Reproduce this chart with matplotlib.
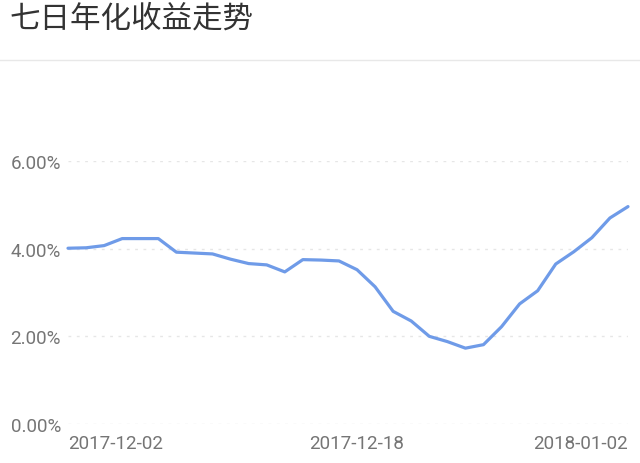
import matplotlib
matplotlib.use("Agg")
import matplotlib.pyplot as plt

title = "七日年化收益走势"
dates = ["2017-12-%02d" % d for d in range(2, 32)] + ["2018-01-01", "2018-01-02"]
values = [4.01, 4.02, 4.07, 4.23, 4.23, 4.23, 3.92, 3.90, 3.88, 3.76,
          3.66, 3.63, 3.47, 3.75, 3.74, 3.72, 3.52, 3.13, 2.57, 2.35,
          2.00, 1.88, 1.73, 1.81, 2.22, 2.74, 3.04, 3.65, 3.93, 4.25,
          4.70, 4.96]
y_ticks = [0, 2, 4, 6]
y_tick_labels = ["0.00%", "2.00%", "4.00%", "6.00%"]
x_tick_labels = ["2017-12-02", "2017-12-18", "2018-01-02"]

plt.rcParams['font.family'] = ['Roboto', 'Noto Sans CJK SC', 'DejaVu Sans']

fig = plt.figure(figsize=(6.4, 4.64), dpi=100)
fig.patch.set_facecolor("white")

fig.text(9/640, 1 - 19/464, title, fontsize=22, color="#333333",
         family=['Noto Sans CJK SC', 'DejaVu Sans'], va="center", ha="left")
fig.add_artist(plt.Line2D([0, 1], [1 - 61/464, 1 - 61/464], color="#e8e8e8", lw=1))

ax = fig.add_axes([68/640, 1 - 425/464, 560/640, (425 - 162)/464])
x = list(range(len(values)))
ax.plot(x, values, color="#6f9be8", lw=2.3, solid_joinstyle="round", solid_capstyle="round", clip_on=False)
ax.set_xlim(0, len(values) - 1)
ax.set_ylim(0, 6)
for s in ax.spines.values():
    s.set_visible(False)
ax.set_yticks(y_ticks)
ax.set_yticklabels(y_tick_labels)
ax.yaxis.grid(True, color="#e6e6e6", lw=1, ls=(0, (2, 4)))
ax.set_axisbelow(True)
idx = [dates.index(d) for d in x_tick_labels]
ax.set_xticks(idx)
ax.set_xticklabels(x_tick_labels)
xl = ax.get_xticklabels()
xl[0].set_ha("left")
xl[-1].set_ha("right")
ax.tick_params(axis="both", length=0, labelsize=13.5, labelcolor="#757575")
ax.tick_params(axis="y", pad=5)
ax.tick_params(axis="x", pad=7)

fig.savefig("out.png", dpi=100, facecolor="white")
